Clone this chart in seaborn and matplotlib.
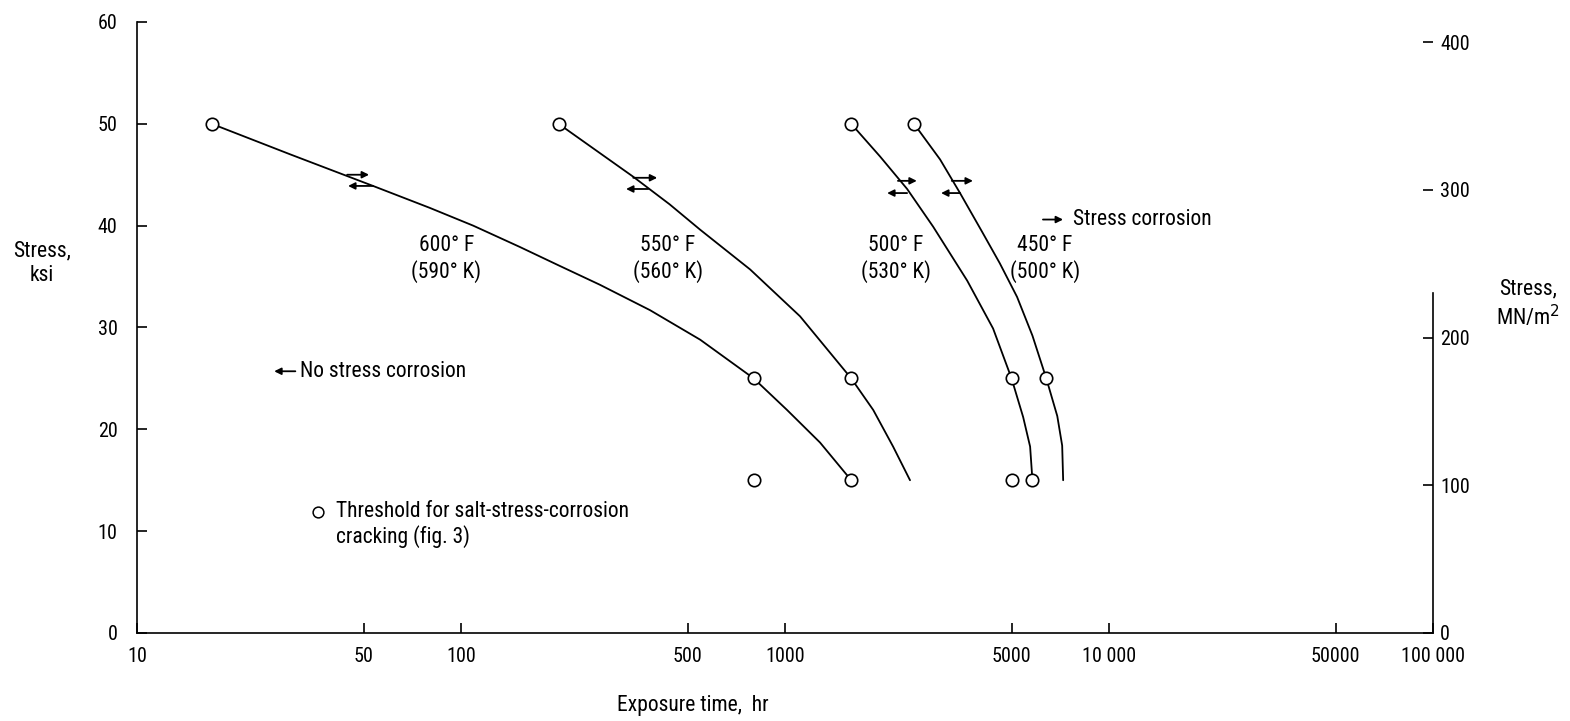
import numpy as np
import pandas as pd
import matplotlib
matplotlib.use("Agg")
import matplotlib.pyplot as plt
from matplotlib import font_manager
import seaborn as sns

# ---------------------------------------------------------------------------
# Data (time in hr, stress in ksi)
# ---------------------------------------------------------------------------
TIME_600 = [17, 29.7, 53.5, 80, 109, 152, 200, 268, 383, 547, 800, 1014, 1282, 1600]
STRESS_600 = [50, 47.0, 43.9, 41.75, 40.0, 37.9, 36.1, 34.2, 31.7, 28.8, 25, 21.9, 18.7, 15]

TIME_550 = [200, 340, 440, 547, 780, 1112, 1600, 1871, 2155, 2430]
STRESS_550 = [50, 44.8, 42.1, 39.6, 35.7, 31.1, 25, 21.9, 18.3, 15]

TIME_500 = [1600, 1963, 2381, 2864, 3648, 4385, 5000, 5430, 5705, 5800]
STRESS_500 = [50, 46.8, 43.6, 39.9, 34.6, 29.9, 25, 21.2, 18.3, 15]

TIME_450 = [2500, 3009, 3467, 4055, 4600, 5200, 5800, 6400, 6920, 7165, 7215]
STRESS_450 = [50, 46.5, 43.2, 39.4, 36.3, 33.0, 29.2, 25, 21.3, 18.4, 15]

# threshold for salt-stress-corrosion cracking (open circles)
THRESH_TIME = [17, 800, 800, 200, 1600, 1600, 1600, 5000, 5000, 5800, 2500, 6400]
THRESH_STRESS = [50, 25, 15, 50, 25, 15, 50, 25, 15, 15, 50, 25]

# arrow pairs on each curve (600, 550, 500, 450 F)
UP_STRESS = [45.0, 44.7, 44.4, 44.4]
UP_FROM = [44.5, 340, 2230, 3270]
UP_TO = [52, 403, 2550, 3800]
DOWN_STRESS = [43.9, 43.6, 43.2, 43.2]
DOWN_FROM = [53.5, 378, 2380, 3470]
DOWN_TO = [44.8, 323, 2065, 3030]

CURVE_LABELS = ["600° F\n(590° K)", "550° F\n(560° K)", "500° F\n(530° K)", "450° F\n(500° K)"]
LABEL_TIME = [90, 435, 2200, 6340]
LABEL_STRESS = 36.7

X_TICKS = [10, 50, 100, 500, 1000, 5000, 10000, 50000, 100000]
X_TICKLABELS = ["10", "50", "100", "500", "1000", "5000", "10 000", "50000", "100 000"]
Y_TICKS = [0, 10, 20, 30, 40, 50, 60]
MN_TICKS = [0, 100, 200, 300, 400]
KSI_TO_MN = 6.895

curves = pd.concat([
    pd.DataFrame({"time": TIME_600, "stress": STRESS_600, "curve": "600"}),
    pd.DataFrame({"time": TIME_550, "stress": STRESS_550, "curve": "550"}),
    pd.DataFrame({"time": TIME_500, "stress": STRESS_500, "curve": "500"}),
    pd.DataFrame({"time": TIME_450, "stress": STRESS_450, "curve": "450"}),
], ignore_index=True)

sns.set_theme(style="white")

# the original uses a condensed typeface; use one if the machine has it
installed = {f.name for f in font_manager.fontManager.ttflist}
narrow = [n for n in ["Liberation Sans Narrow", "Roboto Condensed", "Open Sans Condensed",
                      "DejaVu Sans Condensed", "Noto Sans Condensed"] if n in installed]
plt.rcParams["font.family"] = narrow[:1] + ["DejaVu Sans"]
for key in ["text.color", "axes.labelcolor", "xtick.color", "ytick.color"]:
    plt.rcParams[key] = "black"
FS = 15.5
TICK_FS = 14.5

fig = plt.figure(figsize=(15.7, 7.21), dpi=100)
ax = fig.add_axes([0.0873, 0.1221, 0.8255, 0.8474])

sns.lineplot(data=curves, x="time", y="stress", units="curve", estimator=None,
             sort=False, color="black", linewidth=1.3, ax=ax, legend=False)
sns.scatterplot(x=THRESH_TIME, y=THRESH_STRESS, marker="o", s=80, color="white",
                edgecolor="black", linewidth=1.2, zorder=4, ax=ax, legend=False)

arrow_kw = dict(arrowstyle="-|>", color="black", lw=1.3, mutation_scale=10,
                shrinkA=0, shrinkB=0)
for i in range(4):
    ax.annotate("", xy=(UP_TO[i], UP_STRESS[i]), xytext=(UP_FROM[i], UP_STRESS[i]),
                arrowprops=arrow_kw)
    ax.annotate("", xy=(DOWN_TO[i], DOWN_STRESS[i]), xytext=(DOWN_FROM[i], DOWN_STRESS[i]),
                arrowprops=arrow_kw)
    ax.text(LABEL_TIME[i], LABEL_STRESS, CURVE_LABELS[i], ha="center", va="center",
            fontsize=FS, linespacing=1.2)

# annotations
ax.annotate("", xy=(7210, 40.6), xytext=(6250, 40.6), arrowprops=arrow_kw)
ax.text(7740, 40.6, "Stress corrosion", ha="left", va="center", fontsize=FS)
ax.annotate("", xy=(26.5, 25.7), xytext=(30.8, 25.7), arrowprops=arrow_kw)
ax.text(31.8, 25.7, "No stress corrosion", ha="left", va="center", fontsize=FS)
ax.scatter([36.2], [11.9], s=60, facecolor="white", edgecolor="black", linewidth=1.1)
ax.text(41.1, 10.65, "Threshold for salt-stress-corrosion\ncracking (fig. 3)",
        ha="left", va="center", fontsize=FS, linespacing=1.2)

ax.set_xscale("log")
ax.set_xlim(10, 100000)
ax.set_ylim(0, 60)
ax.set_xticks(X_TICKS)
ax.set_xticklabels(X_TICKLABELS)
ax.xaxis.set_minor_locator(matplotlib.ticker.NullLocator())
ax.set_yticks(Y_TICKS)
ax.set_xlabel("")
ax.set_ylabel("")
ax.tick_params(axis="x", direction="in", length=7, width=1.2, pad=10,
               labelsize=TICK_FS, colors="black", bottom=True)
ax.tick_params(axis="y", direction="in", length=7, width=1.2, pad=14,
               labelsize=TICK_FS, colors="black", left=True)
for side in ["top", "right"]:
    ax.spines[side].set_visible(False)
for side in ["left", "bottom"]:
    ax.spines[side].set_color("black")
    ax.spines[side].set_linewidth(1.2)

ax2 = ax.twinx()
ax2.set_ylim(0, 60 * KSI_TO_MN)
ax2.set_yticks(MN_TICKS)
ax2.tick_params(axis="y", direction="in", length=7, width=1.2, pad=5,
                labelsize=TICK_FS, colors="black", right=True)
ax2.grid(False)
for side in ["top", "left", "bottom"]:
    ax2.spines[side].set_visible(False)
ax2.spines["right"].set_color("black")
ax2.spines["right"].set_linewidth(1.2)
ax2.spines["right"].set_bounds(0, 230)

fig.text(42 / 1570, 1 - 263 / 721, "Stress,\nksi", ha="center", va="center",
         fontsize=FS, linespacing=1.2)
fig.text(1528 / 1570, 1 - 304 / 721, "Stress,\nMN/m$^2$", ha="center", va="center",
         fontsize=FS, linespacing=1.2)
fig.text(693 / 1570, 1 - 706 / 721, "Exposure time,  hr", ha="center", va="center",
         fontsize=FS)

fig.savefig("out.png", dpi=100)
